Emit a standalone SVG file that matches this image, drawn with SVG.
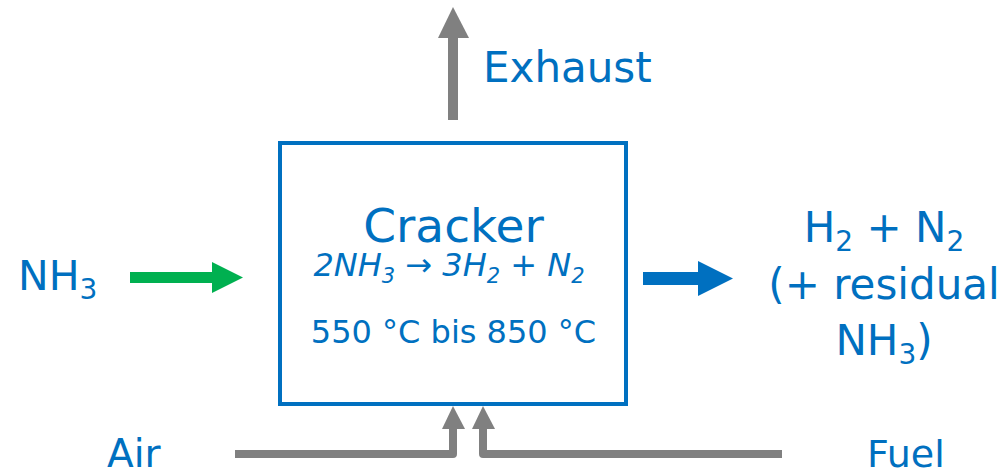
<svg xmlns="http://www.w3.org/2000/svg" width="1005" height="475" viewBox="0 0 1005 475">
<style>
.t{font-family:"DejaVu Sans","Verdana",sans-serif;fill:#0070C0}
.pipe{fill:none;stroke:#808080;stroke-width:8;stroke-linejoin:round}
</style>
<rect width="1005" height="475" fill="#ffffff"/>
<g id="connectors">
<line x1="453" y1="120" x2="453" y2="36" stroke="#808080" stroke-width="10"/>
<polygon points="438,38 453,7 469,38" fill="#808080"/>
<line x1="130" y1="277.5" x2="214" y2="277.5" stroke="#00B050" stroke-width="11"/>
<polygon points="212,262 243,277.5 212,293" fill="#00B050"/>
<line x1="643" y1="278.5" x2="700" y2="278.5" stroke="#0070C0" stroke-width="13"/>
<polygon points="698,261 733,278.5 698,296" fill="#0070C0"/>
<path class="pipe" d="M235,454 H453 V427"/>
<polygon points="442,429 453,406 465,429" fill="#808080"/>
<path class="pipe" d="M782,454 H483 V427"/>
<polygon points="472,429 483,406 495,429" fill="#808080"/>
</g>
<g id="cracker">
<rect x="280" y="143" width="346" height="261" fill="none" stroke="#0070C0" stroke-width="4"/>
<text class="t" x="453.5" y="242" font-size="47" text-anchor="middle">Cracker</text>
<text class="t" x="449" y="276" font-size="32" font-style="italic" text-anchor="middle">2NH<tspan font-size="21" dy="7">3</tspan><tspan dy="-7"> → 3H</tspan><tspan font-size="21" dy="7">2</tspan><tspan dy="-7"> + N</tspan><tspan font-size="21" dy="7">2</tspan></text>
<text class="t" x="453.5" y="343" font-size="32" text-anchor="middle">550 °C bis 850 °C</text>
</g>
<g id="exhaust">
<text class="t" x="483" y="82" font-size="42">Exhaust</text>
</g>
<g id="nh3-in">
<text class="t" x="18" y="290" font-size="41">NH<tspan font-size="28" dy="9">3</tspan></text>
</g>
<g id="product">
<text class="t" x="884" y="242" font-size="42" text-anchor="middle">H<tspan font-size="28" dy="9">2</tspan><tspan dy="-9"> + N</tspan><tspan font-size="28" dy="9">2</tspan></text>
<text class="t" x="884" y="299" font-size="42" text-anchor="middle">(+ residual</text>
<text class="t" x="884" y="355" font-size="42" text-anchor="middle">NH<tspan font-size="28" dy="9">3</tspan><tspan dy="-9">)</tspan></text>
</g>
<g id="air">
<text class="t" x="107" y="467" font-size="39">Air</text>
</g>
<g id="fuel">
<text class="t" x="867" y="467" font-size="38">Fuel</text>
</g>
</svg>
